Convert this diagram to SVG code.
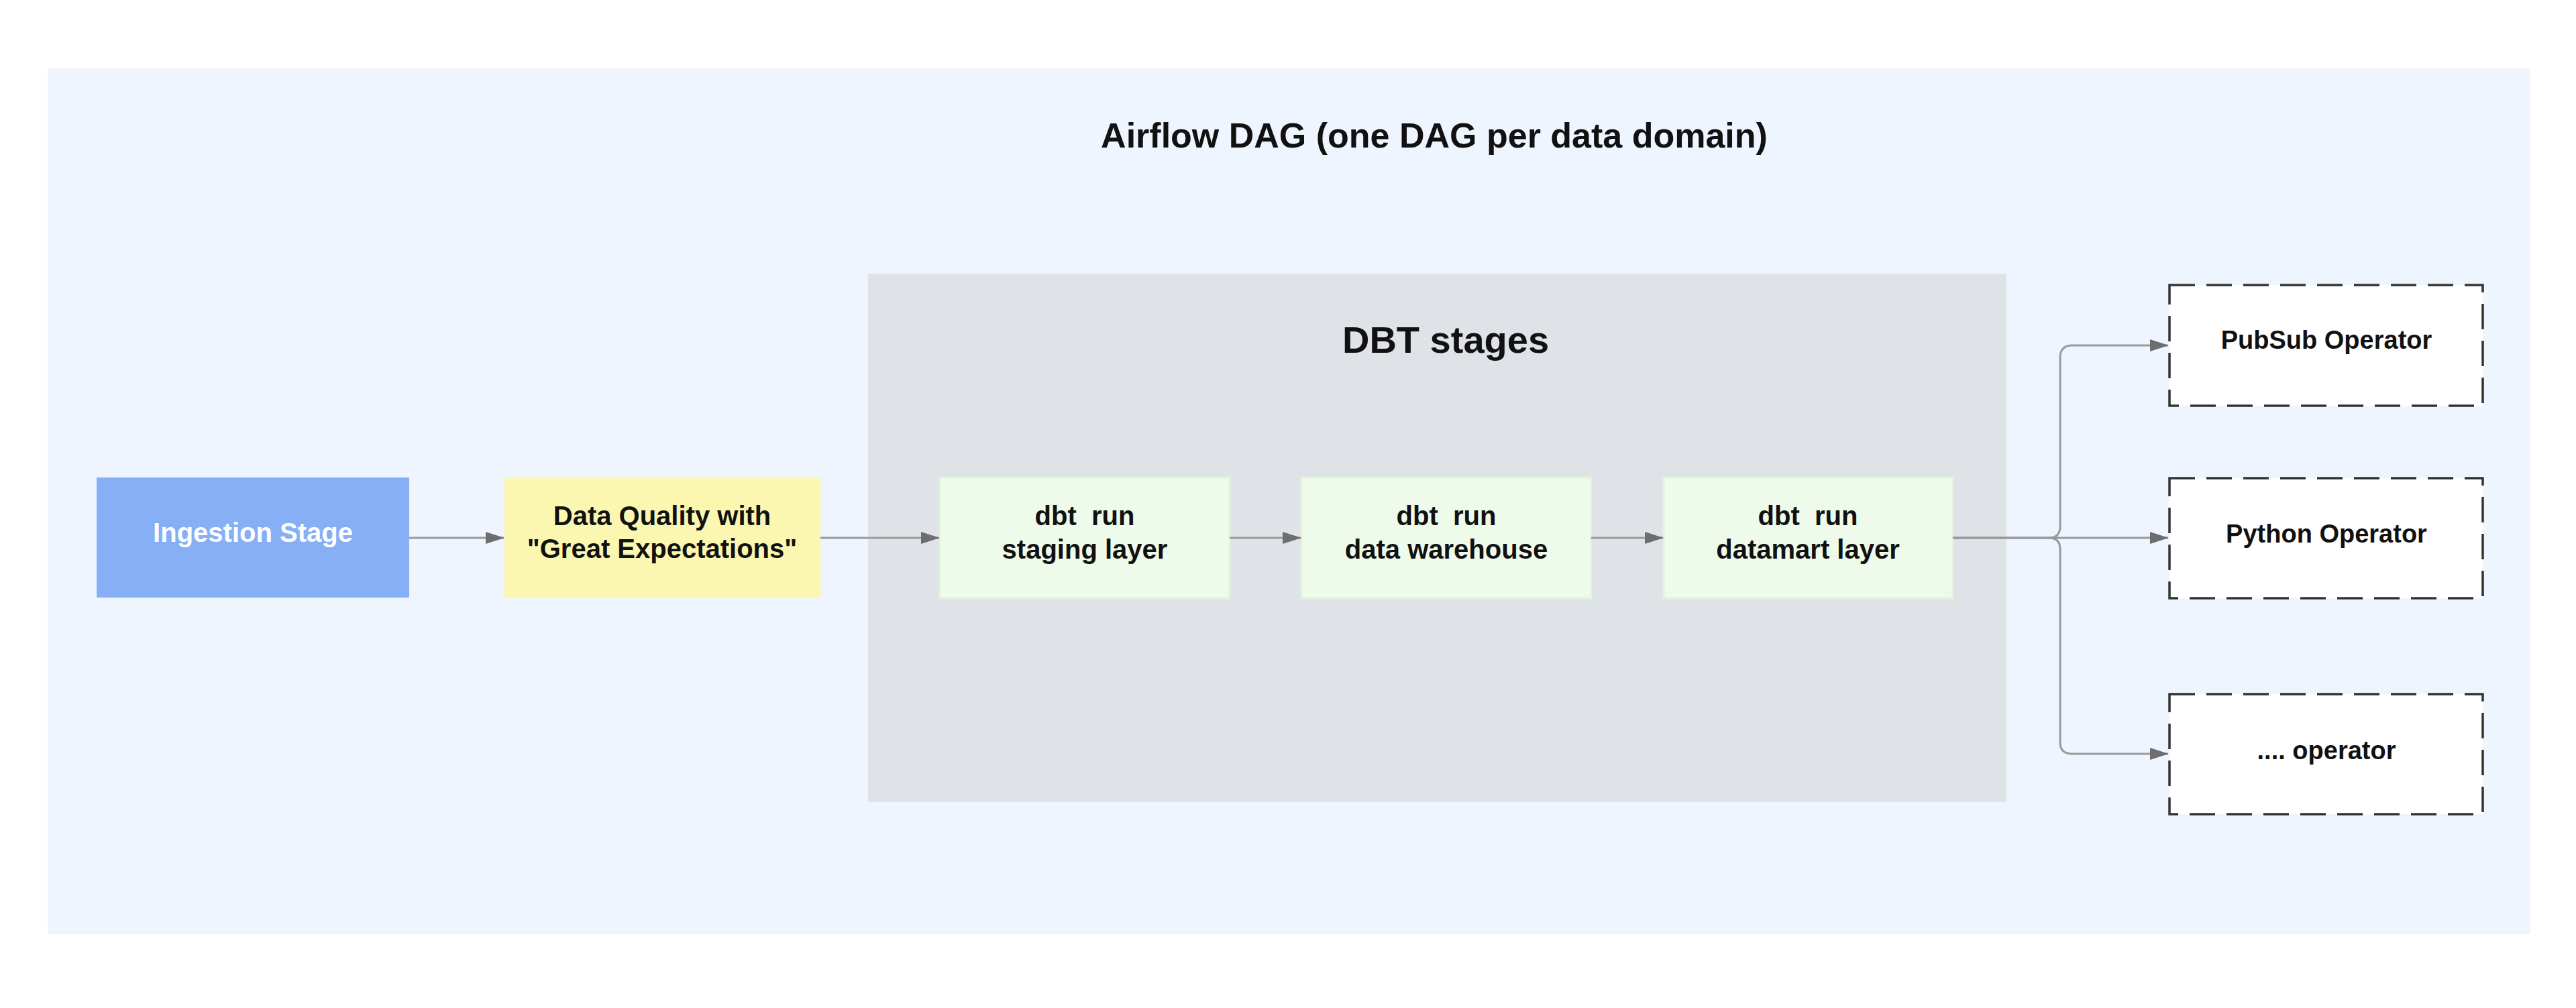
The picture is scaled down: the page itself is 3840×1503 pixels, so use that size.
<svg xmlns="http://www.w3.org/2000/svg" width="3840" height="1503" viewBox="0 0 3840 1503">
  <defs>
    <style>
      text { font-family: "Liberation Sans", Arial, sans-serif; font-weight: bold; text-anchor: middle; fill: #111; }
      .title { font-size: 52px; }
      .sub { font-size: 56px; }
      .lbl { font-size: 40px; }
      .op { font-size: 38px; }
      .dbt { fill: #eefaea; stroke: #e2f3da; stroke-width: 3; }
      .opbox { fill: #ffffff; stroke: #333333; stroke-width: 3.5; stroke-dasharray: 38 17; }
      .conn { fill: none; stroke: #9a9a9a; stroke-width: 3; }
    </style>
    <marker id="arr" markerWidth="28" markerHeight="18" refX="27" refY="9" orient="auto" markerUnits="userSpaceOnUse">
      <path d="M0,0 L28,9 L0,18 Z" fill="#6e6e6e"/>
    </marker>
  </defs>

  <rect x="0" y="0" width="3840" height="1503" fill="#ffffff"/>

  <g id="airflow-dag">
    <rect x="71" y="102" width="3701" height="1291" fill="#eff5fe"/>
    <text class="title" x="2138" y="220">Airflow DAG (one DAG per data domain)</text>
  </g>

  <g id="dbt-stages">
    <rect x="1294" y="408" width="1697" height="788" fill="#dfe3e7"/>
    <text class="sub" x="2155" y="526">DBT stages</text>
  </g>

  <g id="ingestion">
    <rect x="144" y="712" width="466" height="179" fill="#86aff5"/>
    <text class="lbl" x="377" y="808" fill="#ffffff" style="fill:#ffffff">Ingestion Stage</text>
  </g>

  <g id="data-quality">
    <rect x="752" y="712" width="471" height="180" fill="#fbf7b1"/>
    <text class="lbl" x="987" y="783">Data Quality with</text>
    <text class="lbl" x="987" y="832">"Great Expectations"</text>
  </g>

  <g id="staging">
    <rect class="dbt" x="1401" y="712" width="432" height="180"/>
    <text class="lbl" x="1617" y="783" xml:space="preserve">dbt  run</text>
    <text class="lbl" x="1617" y="833">staging layer</text>
  </g>

  <g id="warehouse">
    <rect class="dbt" x="1940" y="712" width="432" height="180"/>
    <text class="lbl" x="2156" y="783" xml:space="preserve">dbt  run</text>
    <text class="lbl" x="2156" y="833">data warehouse</text>
  </g>

  <g id="datamart">
    <rect class="dbt" x="2480" y="712" width="431" height="180"/>
    <text class="lbl" x="2695" y="783" xml:space="preserve">dbt  run</text>
    <text class="lbl" x="2695" y="833">datamart layer</text>
  </g>

  <g id="pubsub">
    <rect class="opbox" x="3234" y="425" width="467" height="180"/>
    <text class="op" x="3468" y="520">PubSub Operator</text>
  </g>

  <g id="python">
    <rect class="opbox" x="3234" y="713" width="467" height="179"/>
    <text class="op" x="3468" y="809">Python Operator</text>
  </g>

  <g id="other-operator">
    <rect class="opbox" x="3234" y="1035" width="467" height="179"/>
    <text class="op" x="3468" y="1132">.... operator</text>
  </g>

  <g id="connectors">
    <path class="conn" d="M610,802 H751" marker-end="url(#arr)"/>
    <path class="conn" d="M1223,802 H1400" marker-end="url(#arr)"/>
    <path class="conn" d="M1833,802 H1939" marker-end="url(#arr)"/>
    <path class="conn" d="M2372,802 H2479" marker-end="url(#arr)"/>
    <path class="conn" d="M2911,802 H3232" marker-end="url(#arr)"/>
    <path class="conn" d="M2911,802 H3054 Q3071,802 3071,785 V533 Q3071,515 3089,515 H3232" marker-end="url(#arr)"/>
    <path class="conn" d="M2911,802 H3054 Q3071,802 3071,819 V1107 Q3071,1124 3089,1124 H3232" marker-end="url(#arr)"/>
  </g>
</svg>
